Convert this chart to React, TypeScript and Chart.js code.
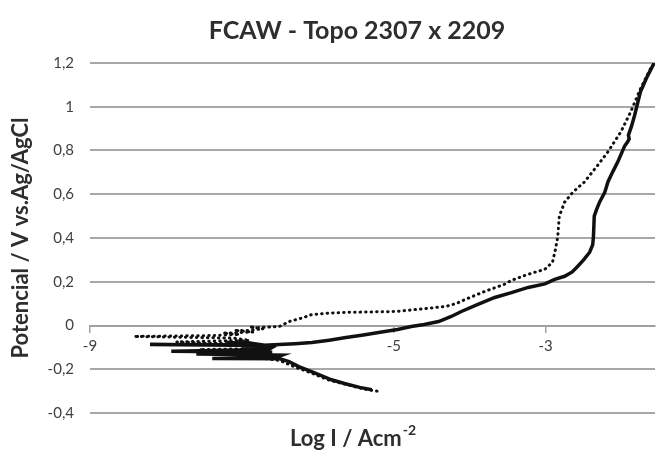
import React, { useEffect, useRef } from "react";
import { Chart, registerables } from "chart.js";

Chart.register(...registerables);

const chartTitle = "FCAW - Topo 2307 x 2209";
const yAxisTitle = "Potencial / V vs.Ag/AgCl";
const xAxisTitleMain = "Log I / Acm";
const xAxisTitleSup = "-2";

const xTickValues = [-9, -5, -3];
const yMin = -0.4;
const yMax = 1.2;
const yStep = 0.2;
const xMin = -9;
const xMax = -1.56;

// Solid curve (log I, E)
const solidLogI = [
  -5.29, -5.45, -5.65, -5.82, -6.05, -6.25, -6.38, -6.5, -7.39, -6.55,
  -6.47, -7.6, -6.6, -7.93, -6.65, -6.6, -7.0, -6.75, -8.21, -6.9,
  -7.2, -6.85, -7.05, -6.7, -6.51, -6.3, -6.08, -5.85, -5.63, -5.4,
  -5.2, -4.95, -4.77, -4.6, -4.41, -4.25, -4.11, -3.9, -3.67, -3.45,
  -3.23, -3.01, -2.88, -2.75, -2.65, -2.58, -2.5, -2.42, -2.38, -2.37,
  -2.36, -2.33, -2.29, -2.22, -2.18, -2.12, -2.05, -1.96, -1.92, -1.9,
  -1.91, -1.87, -1.83, -1.75, -1.66, -1.57,
];
const solidE = [
  -0.294, -0.283, -0.265, -0.248, -0.215, -0.188, -0.165, -0.152, -0.151, -0.145,
  -0.135, -0.13, -0.122, -0.118, -0.11, -0.1, -0.098, -0.092, -0.087, -0.088,
  -0.078, -0.082, -0.072, -0.09, -0.087, -0.083, -0.078, -0.067, -0.055, -0.043,
  -0.032, -0.018, -0.005, 0.005, 0.018, 0.04, 0.064, 0.095, 0.128, 0.15,
  0.174, 0.19, 0.211, 0.225, 0.245, 0.27, 0.3, 0.335, 0.37, 0.41,
  0.5, 0.53, 0.564, 0.61, 0.656, 0.7, 0.748, 0.82, 0.84, 0.853,
  0.87, 0.91, 0.959, 1.07, 1.14, 1.2,
];

// Dotted curve (log I, E)
const dottedLogI = [
  -5.22, -5.4, -5.6, -5.85, -6.1, -6.3, -6.5, -7.56, -6.6, -6.7,
  -7.86, -6.9, -7.1, -8.42, -7.4, -7.03, -7.25, -6.85, -7.1, -6.95,
  -6.72, -6.9, -6.8, -6.51, -6.38, -6.2, -6.08, -5.85, -5.63, -5.3,
  -4.98, -4.65, -4.32, -4.18, -4.06, -3.8, -3.53, -3.46, -3.25, -3.01,
  -2.91, -2.87, -2.84, -2.82, -2.75, -2.64, -2.49, -2.32, -2.18, -2.01,
  -1.88, -1.75, -1.62, -1.57,
];
const dottedE = [
  -0.3, -0.29, -0.272, -0.25, -0.215, -0.19, -0.16, -0.11, -0.105, -0.09,
  -0.075, -0.068, -0.058, -0.05, -0.046, -0.041, -0.035, -0.03, -0.022, -0.024,
  -0.015, -0.006, -0.01, -0.005, 0.018, 0.035, 0.05, 0.057, 0.06, 0.062,
  0.064, 0.075, 0.087, 0.1, 0.119, 0.156, 0.19, 0.205, 0.232, 0.257,
  0.289, 0.349, 0.408, 0.5, 0.564, 0.61, 0.656, 0.73, 0.794, 0.885,
  0.977, 1.083, 1.174, 1.2,
];

const FONT = "Lato, 'Open Sans', sans-serif";

const titlesPlugin = {
  id: "customTitles",
  afterDraw(chart: any) {
    const ctx = chart.ctx;
    ctx.save();
    ctx.fillStyle = "#2e2e2e";
    ctx.textBaseline = "middle";
    ctx.textAlign = "center";
    ctx.font = `bold 25px ${FONT}`;
    ctx.fillText(chartTitle, 357, 31);

    ctx.font = `bold 22px ${FONT}`;
    const mainW = ctx.measureText(xAxisTitleMain).width;
    ctx.font = `bold 14px ${FONT}`;
    const supW = ctx.measureText(xAxisTitleSup).width;
    const total = mainW + supW + 1;
    const startX = 353 - total / 2;
    ctx.textAlign = "left";
    ctx.font = `bold 22px ${FONT}`;
    ctx.fillText(xAxisTitleMain, startX, 439);
    ctx.font = `bold 14px ${FONT}`;
    ctx.fillText(xAxisTitleSup, startX + mainW + 1, 430);
    ctx.restore();
  },
};

export default function App() {
  const canvasRef = useRef<HTMLCanvasElement | null>(null);

  useEffect(() => {
    if (!canvasRef.current) return;
    const solid = solidLogI.map((x, i) => ({ x, y: solidE[i] }));
    const dotted = dottedLogI.map((x, i) => ({ x, y: dottedE[i] }));

    const chart = new Chart(canvasRef.current, {
      type: "line",
      data: {
        datasets: [
          {
            label: "solid",
            data: solid,
            borderColor: "#111111",
            borderWidth: 3.5,
            pointRadius: 0,
            tension: 0,
            fill: false,
          },
          {
            label: "dotted",
            data: dotted,
            borderColor: "#111111",
            borderWidth: 3,
            borderDash: [0.5, 5],
            borderCapStyle: "round",
            pointRadius: 0,
            tension: 0,
            fill: false,
          },
        ],
      },
      options: {
        animation: false,
        responsive: false,
        parsing: false as any,
        layout: { padding: { top: 63, bottom: 50, left: 0, right: 2 } },
        plugins: {
          legend: { display: false },
          title: { display: false },
          tooltip: { enabled: false },
        },
        scales: {
          x: {
            type: "linear",
            min: xMin,
            max: xMax,
            position: { y: 0 } as any,
            afterBuildTicks: (scale: any) => {
              scale.ticks = xTickValues.map((v) => ({ value: v }));
            },
            grid: {
              drawOnChartArea: false,
              drawTicks: true,
              tickLength: 6,
              color: "#a0a0a0",
              lineWidth: 1.5,
            },
            border: { display: true, color: "#a0a0a0", width: 2 },
            ticks: {
              autoSkip: false,
              maxRotation: 0,
              padding: 6,
              color: "#404040",
              font: { family: FONT, size: 15 },
              callback: (v: any) => String(v),
            },
          },
          y: {
            type: "linear",
            min: yMin,
            max: yMax,
            afterFit: (scale: any) => {
              scale.width = 90;
            },
            ticks: {
              stepSize: yStep,
              padding: 16,
              color: "#404040",
              font: { family: FONT, size: 15 },
              callback: (v: any) =>
                String(Number(Number(v).toFixed(1))).replace(".", ","),
            },
            grid: {
              drawTicks: false,
              color: "#a8a8a8",
              lineWidth: 2,
            },
            border: { display: false },
            title: {
              display: true,
              text: yAxisTitle,
              color: "#2e2e2e",
              font: { family: FONT, size: 22, weight: "bold" },
              padding: { top: 8, bottom: 0 },
            },
          },
        },
      },
      plugins: [titlesPlugin],
    });
    return () => chart.destroy();
  }, []);

  return (
    <div style={{ position: "fixed", left: 0, top: 0, width: 657, height: 463, background: "#fff" }}>
      <canvas ref={canvasRef} width={657} height={463} />
    </div>
  );
}
